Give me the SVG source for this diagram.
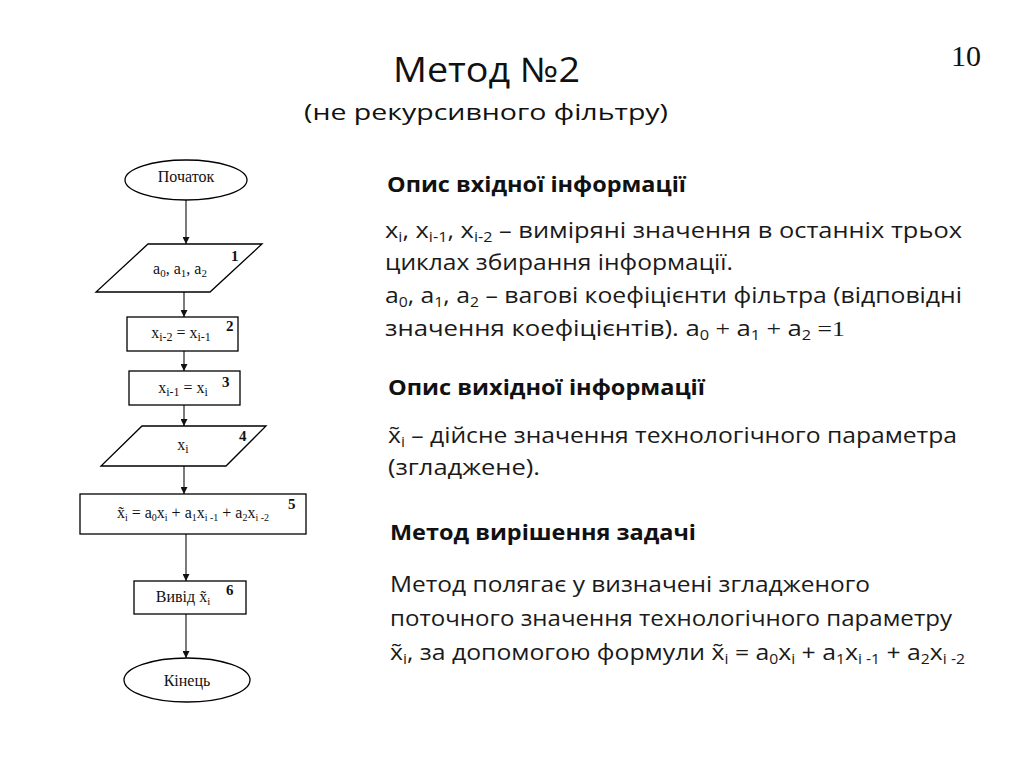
<svg xmlns="http://www.w3.org/2000/svg" width="1024" height="768" viewBox="0 0 1024 768">
<style>
.bg{fill:#ffffff}
.shape{fill:#ffffff;stroke:#000000;stroke-width:1.3}
.conn{stroke:#333333;stroke-width:1.3;fill:none}
.ft{font-family:"Liberation Serif","Times New Roman",serif;font-size:16px;fill:#111111}
.num{font-family:"Liberation Serif","Times New Roman",serif;font-size:15px;font-weight:bold;fill:#111111}
.t{font-family:"Open Sans","Noto Sans","DejaVu Sans",sans-serif;font-size:22px;fill:#1a1a1a}
.h{font-family:"Open Sans","Noto Sans","DejaVu Sans",sans-serif;font-size:21px;font-weight:bold;fill:#111111}
.title{font-family:"Open Sans","Noto Sans","DejaVu Sans",sans-serif;font-size:34px;fill:#111111}
.sub{font-family:"Open Sans","Noto Sans","DejaVu Sans",sans-serif;font-size:22px;fill:#111111}
.serif{font-family:"Liberation Serif","Times New Roman",serif}
</style>
<defs>
<marker id="arr" viewBox="0 0 10 10" refX="10" refY="5" markerWidth="7" markerHeight="7" orient="auto" markerUnits="userSpaceOnUse">
<path d="M0,0 L10,5 L0,10 z" fill="#111111"/>
</marker>
</defs>
<rect class="bg" x="0" y="0" width="1024" height="768"/>

<text class="title" x="393" y="82" textLength="187" lengthAdjust="spacingAndGlyphs">Метод №2</text>
<text class="sub" x="304" y="120" textLength="364" lengthAdjust="spacingAndGlyphs">(не рекурсивного фільтру)</text>
<text x="951" y="66" font-family="Liberation Serif, Times New Roman, serif" font-size="30" fill="#111111">10</text>

<g id="connectors">
<line class="conn" x1="186" y1="200" x2="186" y2="244" marker-end="url(#arr)"/>
<line class="conn" x1="184" y1="292" x2="184" y2="317" marker-end="url(#arr)"/>
<line class="conn" x1="184" y1="351" x2="184" y2="371" marker-end="url(#arr)"/>
<line class="conn" x1="184" y1="405" x2="184" y2="426" marker-end="url(#arr)"/>
<line class="conn" x1="184" y1="466" x2="184" y2="494" marker-end="url(#arr)"/>
<line class="conn" x1="186" y1="534" x2="186" y2="581" marker-end="url(#arr)"/>
<line class="conn" x1="186" y1="614" x2="186" y2="658" marker-end="url(#arr)"/>
</g>

<g id="start">
<ellipse class="shape" cx="186" cy="180" rx="61" ry="20"/>
<text class="ft" x="186" y="182" text-anchor="middle" font-size="18">Початок</text>
</g>

<g id="n1">
<polygon class="shape" points="148,244 262,244 210,292 96,292"/>
<text class="ft" x="180" y="274" text-anchor="middle">a<tspan dy="3" font-size="11">0</tspan><tspan dy="-3">, a</tspan><tspan dy="3" font-size="11">1</tspan><tspan dy="-3">, a</tspan><tspan dy="3" font-size="11">2</tspan></text>
<text class="num" x="231" y="261">1</text>
</g>

<g id="n2">
<rect class="shape" x="127" y="317" width="111" height="34"/>
<text class="ft" x="181" y="338" text-anchor="middle">x<tspan dy="3" font-size="12">i-2</tspan><tspan dy="-3"> = x</tspan><tspan dy="3" font-size="12">i-1</tspan></text>
<text class="num" x="226" y="331">2</text>
</g>

<g id="n3">
<rect class="shape" x="129" y="371" width="111" height="34"/>
<text class="ft" x="183" y="393" text-anchor="middle">x<tspan dy="3" font-size="12">i-1</tspan><tspan dy="-3"> = x</tspan><tspan dy="3" font-size="12">i</tspan></text>
<text class="num" x="222" y="387">3</text>
</g>

<g id="n4">
<polygon class="shape" points="142,426 266,426 226,466 101,466"/>
<text class="ft" x="183" y="450" text-anchor="middle">x<tspan dy="3" font-size="12">i</tspan></text>
<text class="num" x="239" y="441">4</text>
</g>

<g id="n5">
<rect class="shape" x="80" y="494" width="226" height="40"/>
<text class="ft" x="193" y="518" text-anchor="middle" font-size="15">x̃<tspan dy="3" font-size="10">i</tspan><tspan dy="-3"> = a</tspan><tspan dy="3" font-size="10">0</tspan><tspan dy="-3">x</tspan><tspan dy="3" font-size="10">i</tspan><tspan dy="-3"> + a</tspan><tspan dy="3" font-size="10">1</tspan><tspan dy="-3">x</tspan><tspan dy="3" font-size="10">i -1</tspan><tspan dy="-3"> + a</tspan><tspan dy="3" font-size="10">2</tspan><tspan dy="-3">x</tspan><tspan dy="3" font-size="10">i -2</tspan></text>
<text class="num" x="288" y="509">5</text>
</g>

<g id="n6">
<rect class="shape" x="134" y="581" width="112" height="33"/>
<text class="ft" x="183" y="602" text-anchor="middle" font-size="17">Вивід x̃<tspan dy="3" font-size="11">i</tspan></text>
<text class="num" x="226" y="595">6</text>
</g>

<g id="end">
<ellipse class="shape" cx="187" cy="680" rx="63" ry="22"/>
<text class="ft" x="187" y="686" text-anchor="middle" font-size="18">Кінець</text>
</g>

<g id="info">
<text class="h" x="387" y="192" textLength="299" lengthAdjust="spacingAndGlyphs">Опис вхідної інформації</text>
<text class="t" x="385" y="238" textLength="577" lengthAdjust="spacingAndGlyphs">x<tspan dy="4" font-size="14">i</tspan><tspan dy="-4">, x</tspan><tspan dy="4" font-size="14">i-1</tspan><tspan dy="-4">, x</tspan><tspan dy="4" font-size="14">i-2</tspan><tspan dy="-4"> – виміряні значення в останніх трьох</tspan></text>
<text class="t" x="385" y="270" textLength="348" lengthAdjust="spacingAndGlyphs">циклах збирання інформації.</text>
<text class="t" x="385" y="303" textLength="577" lengthAdjust="spacingAndGlyphs">a<tspan dy="4" font-size="14">0</tspan><tspan dy="-4">, a</tspan><tspan dy="4" font-size="14">1</tspan><tspan dy="-4">, a</tspan><tspan dy="4" font-size="14">2</tspan><tspan dy="-4"> – вагові коефіцієнти фільтра (відповідні</tspan></text>
<text class="t" x="385" y="336" textLength="460" lengthAdjust="spacingAndGlyphs">значення коефіцієнтів). a<tspan dy="4" font-size="14">0</tspan><tspan dy="-4" class="serif"> + </tspan>a<tspan dy="4" font-size="14">1</tspan><tspan dy="-4" class="serif"> + </tspan>a<tspan dy="4" font-size="14">2</tspan><tspan dy="-4" class="serif"> =1</tspan></text>

<text class="h" x="388" y="395" textLength="317" lengthAdjust="spacingAndGlyphs">Опис вихідної інформації</text>
<text class="t" x="388" y="443" textLength="569" lengthAdjust="spacingAndGlyphs">x̃<tspan dy="4" font-size="14">i</tspan><tspan dy="-4"> – дійсне значення технологічного параметра</tspan></text>
<text class="t" x="388" y="475" textLength="152" lengthAdjust="spacingAndGlyphs">(згладжене).</text>

<text class="h" x="390" y="540" textLength="306" lengthAdjust="spacingAndGlyphs">Метод вирішення задачі</text>
<text class="t" x="390" y="592" textLength="480" lengthAdjust="spacingAndGlyphs">Метод полягає у визначені згладженого</text>
<text class="t" x="390" y="626" textLength="562" lengthAdjust="spacingAndGlyphs">поточного значення технологічного параметру</text>
<text class="t" x="390" y="660" textLength="575" lengthAdjust="spacingAndGlyphs">x̃<tspan dy="4" font-size="14">i</tspan><tspan dy="-4">, за допомогою формули x̃</tspan><tspan dy="4" font-size="14">i</tspan><tspan dy="-4"> = a</tspan><tspan dy="4" font-size="14">0</tspan><tspan dy="-4">x</tspan><tspan dy="4" font-size="14">i</tspan><tspan dy="-4"> + a</tspan><tspan dy="4" font-size="14">1</tspan><tspan dy="-4">x</tspan><tspan dy="4" font-size="14">i -1</tspan><tspan dy="-4"> + a</tspan><tspan dy="4" font-size="14">2</tspan><tspan dy="-4">x</tspan><tspan dy="4" font-size="14">i -2</tspan></text>
</g>
</svg>
